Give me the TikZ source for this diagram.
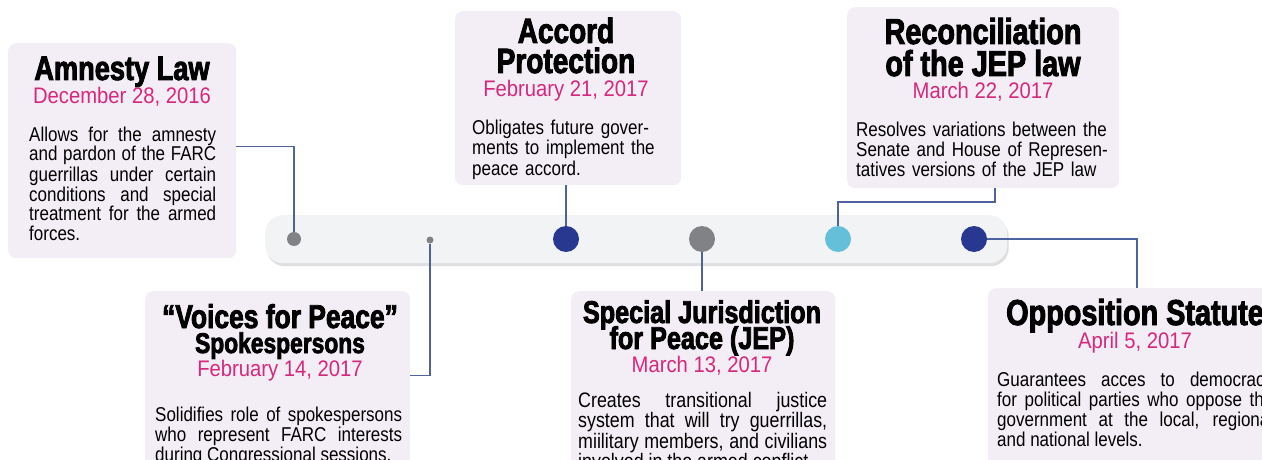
\documentclass[tikz,border=0pt]{standalone}
\usepackage{fontspec}
\setmainfont{Liberation Sans}
\newfontfamily\headfont[FakeStretch=0.8,FakeBold=2.5]{Liberation Sans Bold}
\newfontfamily\condfont[FakeStretch=0.85]{Liberation Sans}
\newfontfamily\datefont[FakeStretch=0.9]{Liberation Sans}
\usetikzlibrary{positioning,shadows}

\definecolor{boxfill}{HTML}{F3EDF5}
\definecolor{barfill}{HTML}{F2F3F5}
\definecolor{datepink}{HTML}{D6287D}
\definecolor{linkblue}{HTML}{4F62A0}
\definecolor{navy}{HTML}{283891}
\definecolor{dotgrey}{HTML}{818285}
\definecolor{skyblue}{HTML}{65BFD9}

\begin{document}
\begin{tikzpicture}[x=1pt, y=-1pt,
    card/.style={fill=boxfill, rounded corners=8pt, anchor=north west, inner sep=0},
    ttl/.style={font=\headfont\fontsize{#1}{#1}\selectfont, anchor=base, inner sep=0},
    when/.style={font=\datefont\fontsize{22.5}{22.5}\selectfont, text=datepink, anchor=base, inner sep=0},
    txt/.style={font=\condfont\fontsize{20}{20}\selectfont, anchor=base west, inner sep=0, text width=#1, align=justify},
    evdot/.style={circle, inner sep=0, minimum size=#1},
    link/.style={draw=linkblue, line width=1.3pt}]
    \useasboundingbox (0,0) rectangle (1262,460);

    \node[card, minimum width=228, minimum height=215] (amnesty) at (8,43) {};
    \node[card, minimum width=226, minimum height=174] (accord) at (455,11) {};
    \node[card, minimum width=272, minimum height=181] (recon) at (847,7) {};
    \node[card, minimum width=265, minimum height=184] (voices) at (145,291) {};
    \node[card, minimum width=264, minimum height=184] (jep) at (571,291) {};
    \node[card, minimum width=300, minimum height=187] (opp) at (988,288) {};

    \node[fill=barfill, rounded corners=18pt, anchor=north west, minimum width=742, minimum height=48,
        drop shadow={shadow xshift=1.5pt, shadow yshift=-3pt, opacity=0.25}] (bar) at (265,215) {};

    \node[evdot=14, fill=dotgrey] (d1) at (294,239) {};
    \node[evdot=7, fill=dotgrey] (d2) at (430,240) {};
    \node[evdot=26, fill=navy] (d3) at (566,239) {};
    \node[evdot=26, fill=dotgrey] (d4) at (702,239) {};
    \node[evdot=26, fill=skyblue] (d5) at (838,239) {};
    \node[evdot=26, fill=navy] (d6) at (974,239) {};

    \coordinate (rbend) at (995,202);
    \coordinate (obend) at (1137,239);
    \draw[link] ([yshift=4.5pt]amnesty.east) -| (d1);
    \draw[link] (accord.south -| d3) -- (d3);
    \draw[link] (recon.south -| rbend) -- (rbend) -| (d5);
    \draw[link] (d2) |- ([yshift=8pt]voices.east);
    \draw[link] (d4) -- (d4 |- jep.north);
    \draw[link] (d6) -- (obend) -- (obend |- opp.north);

    \node[ttl=34] (amnestyT) at (122,80) {Amnesty Law};
    \node[when] (amnestyD) at (122,103) {December 28, 2016};
    \node[txt=187] (amnestyB) at (29,141) {Allows for the amnesty\linebreak and pardon of the FARC\linebreak guerrillas under certain\linebreak conditions and special\linebreak treatment for the armed\linebreak forces.};

    \node[ttl=35] (accordT1) at (566,43) {Accord};
    \node[ttl=35] (accordT2) at (566,73) {Protection};
    \node[when] (accordD) at (566,96) {February 21, 2017};
    \node[txt=200, align=left] (accordB) at (472,135) {Obligates future gover-\\ments to implement the\\peace accord.};

    \node[ttl=36] (reconT1) at (983,44) {Reconciliation};
    \node[ttl=36] (reconT2) at (983,76) {of the JEP law};
    \node[when] (reconD) at (983,99) {March 22, 2017};
    \node[txt=260, align=left] (reconB) at (856,136) {Resolves variations between the\\Senate and House of Represen-\\tatives versions of the JEP law};

    \node[ttl=33] (voicesT1) at (280,328) {“Voices for Peace”};
    \node[ttl=28.5] (voicesT2) at (280,353) {Spokespersons};
    \node[when] (voicesD) at (280,376) {February 14, 2017};
    \node[txt=247] (voicesB) at (155,421) {\parfillskip=0pt Solidifies role of spokespersons\linebreak who represent FARC interests\linebreak during Congressional sessions.};

    \node[ttl=31.5] (jepT1) at (702,323) {Special Jurisdiction};
    \node[ttl=31.5] (jepT2) at (702,349) {for Peace (JEP)};
    \node[when] (jepD) at (702,372) {March 13, 2017};
    \node[txt=249, font=\condfont\fontsize{21}{18}\selectfont] (jepB) at (578,407) {Creates transitional justice\linebreak system that will try guerrillas,\linebreak miilitary members, and civilians\linebreak involved in the armed conflict};

    \node[ttl=36] (oppT) at (1135,325) {Opposition Statute};
    \node[when] (oppD) at (1135,348) {April 5, 2017};
    \node[txt=276] (oppB) at (997,386) {Guarantees acces to democracy\linebreak for political parties who oppose the\linebreak government at the local, regional\linebreak and national levels.};
\end{tikzpicture}
\end{document}
